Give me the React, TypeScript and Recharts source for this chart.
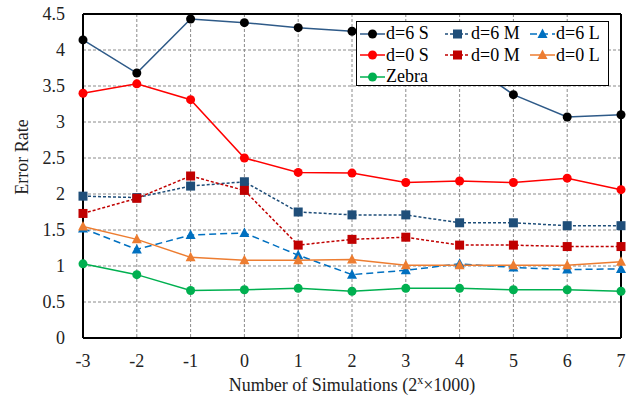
import React from "react"
import { CartesianGrid, Legend, Line, LineChart, ReferenceLine, XAxis, YAxis } from "recharts"

const xValues = [-3, -2, -1, 0, 1, 2, 3, 4, 5, 6, 7]
const yTicks = [0, 0.5, 1, 1.5, 2, 2.5, 3, 3.5, 4, 4.5]

const d6S = [4.14, 3.68, 4.43, 4.38, 4.31, 4.26, 4.18, 3.9, 3.38, 3.07, 3.1]
const d6M = [1.97, 1.95, 2.11, 2.17, 1.75, 1.71, 1.71, 1.6, 1.6, 1.56, 1.56]
const d6L = [1.52, 1.23, 1.43, 1.46, 1.15, 0.88, 0.94, 1.03, 0.98, 0.95, 0.96]
const d0S = [3.4, 3.53, 3.31, 2.5, 2.3, 2.29, 2.16, 2.18, 2.16, 2.22, 2.06]
const d0M = [1.73, 1.94, 2.25, 2.05, 1.29, 1.37, 1.4, 1.29, 1.29, 1.27, 1.27]
const d0L = [1.55, 1.37, 1.12, 1.08, 1.08, 1.09, 1.01, 1.01, 1.01, 1.01, 1.06]
const zebra = [1.03, 0.88, 0.66, 0.67, 0.69, 0.65, 0.69, 0.69, 0.67, 0.67, 0.65]

type Shape = "circle" | "square" | "triangle"

const series: { key: string; name: string; values: number[]; stroke: string; fill: string; dash?: string; shape: Shape }[] = [
  { key: "d6S", name: "d=6 S", values: d6S, stroke: "#2E5A88", fill: "#000000", shape: "circle" },
  { key: "d6M", name: "d=6 M", values: d6M, stroke: "#1F4E79", fill: "#1F4E79", dash: "3 2", shape: "square" },
  { key: "d6L", name: "d=6 L", values: d6L, stroke: "#0070C0", fill: "#0070C0", dash: "7 4", shape: "triangle" },
  { key: "d0S", name: "d=0 S", values: d0S, stroke: "#FF0000", fill: "#FF0000", shape: "circle" },
  { key: "d0M", name: "d=0 M", values: d0M, stroke: "#C00000", fill: "#C00000", dash: "3 2", shape: "square" },
  { key: "d0L", name: "d=0 L", values: d0L, stroke: "#ED7D31", fill: "#ED7D31", shape: "triangle" },
  { key: "zebra", name: "Zebra", values: zebra, stroke: "#00B050", fill: "#00B050", shape: "circle" },
]

const data = xValues.map((x, i) => {
  const row: Record<string, number> = { x }
  series.forEach((s) => {
    row[s.key] = s.values[i]
  })
  return row
})

const FONT = "'Liberation Serif', 'Times New Roman', serif"

function marker(shape: Shape, cx: number, cy: number, fill: string, key?: string) {
  if (shape === "square") {
    return <rect key={key} x={cx - 4.5} y={cy - 4.5} width={9} height={9} fill={fill} />
  }
  if (shape === "triangle") {
    return <path key={key} d={`M${cx},${cy - 5.5} L${cx + 5},${cy + 4} L${cx - 5},${cy + 4} Z`} fill={fill} />
  }
  return <circle key={key} cx={cx} cy={cy} r={4.5} fill={fill} />
}

function LegendBox() {
  return (
    <div
      style={{
        background: "#fff",
        border: "1px solid #000",
        width: 251,
        height: 63,
        fontFamily: FONT,
        fontSize: 18,
        position: "relative",
      }}
    >
      {series.map((s, i) => {
        const col = i < 6 ? i % 3 : 0
        const row = Math.floor(i / 3)
        return (
          <div
            key={s.key}
            style={{
              position: "absolute",
              left: 3 + col * 85,
              top: 1 + row * 21.5,
              display: "flex",
              alignItems: "center",
              height: 21,
              whiteSpace: "nowrap",
              lineHeight: "21px",
              fontFamily: FONT,
            }}
          >
            <svg width={25} height={12} style={{ marginRight: 1 }}>
              <line x1={0} y1={6} x2={25} y2={6} stroke={s.stroke} strokeWidth={1.5} strokeDasharray={s.dash} />
              {marker(s.shape, 12.5, 6, s.fill)}
            </svg>
            <span style={{ color: "#000", fontFamily: FONT }}>{s.name}</span>
          </div>
        )
      })}
    </div>
  )
}

function XLabel(props: any) {
  const vb = props.viewBox || { x: 83, y: 338, width: 538 }
  return (
    <text x={vb.x + vb.width / 2} y={vb.y + 53} textAnchor="middle" style={{ fontFamily: FONT }} fontSize={18} fill="#222">
      Number of Simulations (2
      <tspan dy={-7} fontSize={12}>x</tspan>
      <tspan dy={7}>×1000)</tspan>
    </text>
  )
}

function YLabel(props: any) {
  const vb = props.viewBox || { x: 0, y: 14, width: 83, height: 324 }
  const cx = 28
  const cy = vb.y + vb.height / 2 - 19
  return (
    <text x={cx} y={cy} transform={`rotate(-90 ${cx} ${cy})`} textAnchor="middle" style={{ fontFamily: FONT }} fontSize={18} fill="#222">
      Error Rate
    </text>
  )
}

const tickStyle = { fontSize: 18, fill: "#222", style: { fontFamily: FONT } }

export default function App() {
  return (
    <div style={{ position: "absolute", left: 0, top: 0, width: 632, height: 399, background: "#fff", fontFamily: FONT }}>
      <LineChart
        width={632}
        height={399}
        data={data}
        margin={{ top: 14, right: 11, bottom: 0, left: 0 }}
        style={{ fontFamily: FONT }}
      >
        <CartesianGrid stroke="#8a8a8a" strokeDasharray="3 2" strokeWidth={1} />
        <XAxis
          dataKey="x"
          type="number"
          domain={[-3, 7]}
          ticks={xValues}
          height={61}
          tickSize={0}
          tickMargin={16}
          axisLine={{ stroke: "#000", strokeWidth: 2 }}
          tick={tickStyle}
          label={<XLabel />}
        />
        <YAxis
          type="number"
          domain={[0, 4.5]}
          ticks={yTicks}
          width={83}
          tickSize={0}
          tickMargin={18}
          axisLine={{ stroke: "#000", strokeWidth: 2 }}
          tick={tickStyle}
          label={<YLabel />}
        />
        <ReferenceLine y={4.5} stroke="#000" strokeWidth={2} />
        <ReferenceLine x={7} stroke="#000" strokeWidth={2} />
        {series.map((s) => (
          <Line
            key={s.key}
            dataKey={s.key}
            name={s.name}
            type="linear"
            stroke={s.stroke}
            strokeWidth={1.5}
            strokeDasharray={s.dash}
            isAnimationActive={false}
            dot={(p: any) => marker(s.shape, p.cx, p.cy, s.fill, `${s.key}-${p.index}`)}
            activeDot={false}
          />
        ))}
        <Legend
          layout="horizontal"
          verticalAlign="middle"
          align="center"
          content={() => <LegendBox />}
          wrapperStyle={{ left: 356, top: 21, width: 253, height: 65 }}
        />
      </LineChart>
    </div>
  )
}
